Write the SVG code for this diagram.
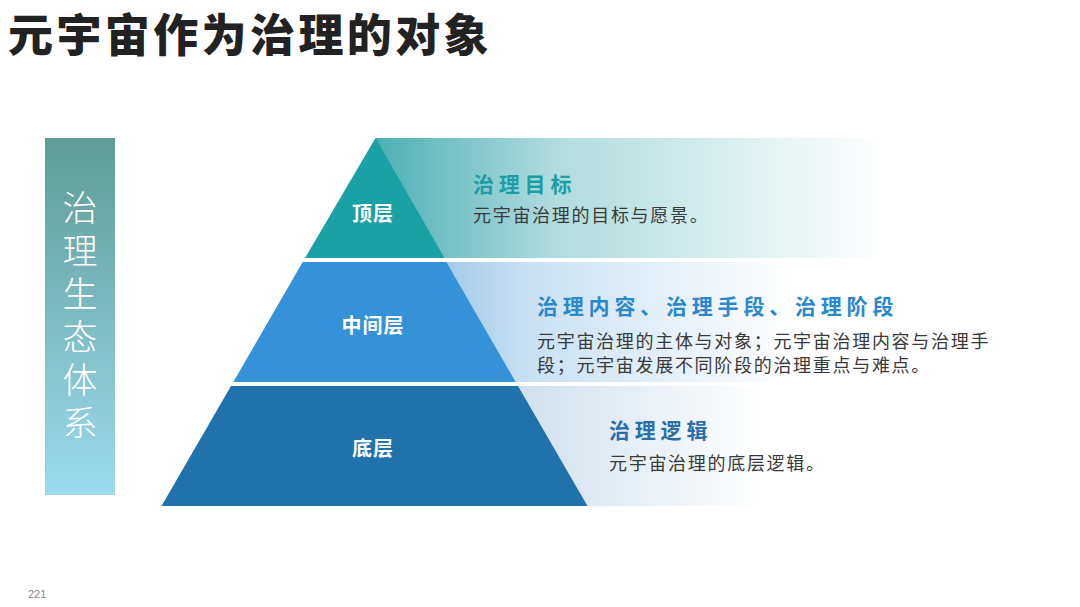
<svg xmlns="http://www.w3.org/2000/svg" width="1080" height="607" viewBox="0 0 1080 607">
<defs>
<linearGradient id="barG" x1="0" y1="0" x2="0" y2="1">
<stop offset="0" stop-color="#5e9c95"/>
<stop offset="1" stop-color="#9cdaf0"/>
</linearGradient>
<linearGradient id="band1" x1="0" y1="0" x2="1" y2="0">
<stop offset="0" stop-color="#4eb0b4"/>
<stop offset="0.3" stop-color="#b0dcde"/>
<stop offset="0.85" stop-color="#ffffff"/>
</linearGradient>
<linearGradient id="band2" x1="0" y1="0" x2="1" y2="0">
<stop offset="0" stop-color="#7fb8e2"/>
<stop offset="0.25" stop-color="#c9e0f2"/>
<stop offset="0.7" stop-color="#ffffff"/>
</linearGradient>
<linearGradient id="band3" x1="0" y1="0" x2="1" y2="0">
<stop offset="0" stop-color="#8fb3d2"/>
<stop offset="0.25" stop-color="#d2e1ee"/>
<stop offset="0.65" stop-color="#ffffff"/>
</linearGradient>
</defs>
<style>
.cjk{font-family:"Noto Sans CJK SC","Noto Sans",sans-serif}
.tier{font-size:20px;font-weight:700;fill:#ffffff;text-anchor:middle;letter-spacing:1px}
.head{font-size:21px;font-weight:700;letter-spacing:4.8px}
.desc{font-size:18px;fill:#3a3a3a;letter-spacing:1.7px}
</style>
<rect width="1080" height="607" fill="#ffffff"/>
<text class="cjk" x="8" y="52" font-size="45" font-weight="900" fill="#222222" letter-spacing="3.4">元宇宙作为治理的对象</text>

<g id="side-bar">
<rect x="45" y="138" width="70" height="357" fill="url(#barG)"/>
<text class="cjk" x="80" y="190" font-size="35" font-weight="300" fill="#ffffff" writing-mode="vertical-rl" letter-spacing="8">治理生态体系</text>
</g>

<g id="bands">
<rect x="376" y="138" width="600" height="120" fill="url(#band1)"/>
<rect x="376" y="262" width="600" height="120" fill="url(#band2)"/>
<rect x="376" y="386" width="600" height="120" fill="url(#band3)"/>
</g>

<g id="top-tier">
<polygon points="375.5,138 444.5,258 305,258" fill="#1aa1a6"/>
<text class="cjk tier" x="373" y="221">顶层</text>
<text class="cjk head" x="473" y="192" fill="#1c9ea4">治理目标</text>
<text class="cjk desc" x="473" y="222">元宇宙治理的目标与愿景。</text>
</g>

<g id="middle-tier">
<polygon points="302.7,262 446.3,262 515.7,382 233.3,382" fill="#3592d8"/>
<text class="cjk tier" x="373" y="333">中间层</text>
<text class="cjk head" x="537" y="314" fill="#2a88cc">治理内容、治理手段、治理阶段</text>
<text class="cjk desc" x="537" y="348">元宇宙治理的主体与对象；元宇宙治理内容与治理手</text>
<text class="cjk desc" x="537" y="372">段；元宇宙发展不同阶段的治理重点与难点。</text>
</g>

<g id="bottom-tier">
<polygon points="231,386 518,386 587.5,506 161.5,506" fill="#2171ab"/>
<text class="cjk tier" x="373" y="456">底层</text>
<text class="cjk head" x="609" y="438" fill="#2a6fa8">治理逻辑</text>
<text class="cjk desc" x="609" y="470">元宇宙治理的底层逻辑。</text>
</g>

<text x="28" y="598" font-family="Liberation Sans, sans-serif" font-size="11" fill="#888888">221</text>
</svg>
